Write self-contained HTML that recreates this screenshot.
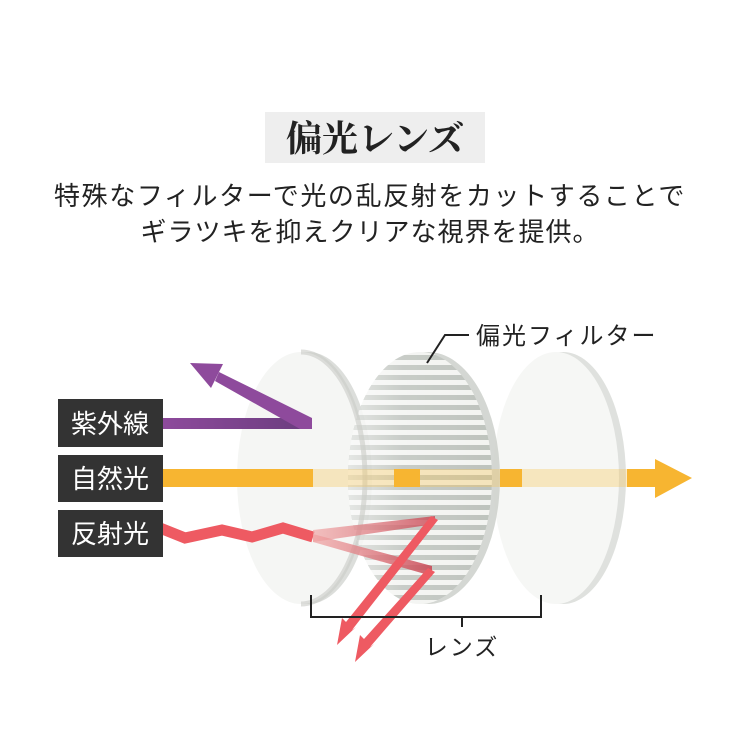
<!DOCTYPE html>
<html><head><meta charset="utf-8"><style>
html,body{margin:0;padding:0;background:#fff}
svg{display:block}
</style></head><body>
<svg width="740" height="740" viewBox="0 0 740 740" xmlns="http://www.w3.org/2000/svg">
<defs>
<clipPath id="fc"><ellipse cx="420" cy="478" rx="72" ry="126"/></clipPath>
<linearGradient id="pg" x1="0" x2="1"><stop offset="0" stop-color="#8e4a9c"/><stop offset="1" stop-color="#6a3d7e"/></linearGradient>
<linearGradient id="rf" x1="0" x2="1"><stop offset="0" stop-color="#f0a0a0" stop-opacity="0.8"/><stop offset="1" stop-color="#c84552"/></linearGradient>
<linearGradient id="sf" x1="0" x2="1"><stop offset="0" stop-color="#fff" stop-opacity="0.7"/><stop offset="0.35" stop-color="#fff" stop-opacity="0.2"/><stop offset="1" stop-color="#fff" stop-opacity="0"/></linearGradient>
</defs>
<rect width="740" height="740" fill="#fff"/>
<rect x="265" y="112" width="220" height="51" fill="#eeeeee"/>
<text x="375" y="151" text-anchor="middle" font-family="'Liberation Serif','Noto Serif CJK SC',serif" font-weight="bold" font-size="36" fill="#222">偏光レンズ</text>
<text x="370" y="205" text-anchor="middle" font-family="'Liberation Sans','Noto Sans CJK JP',sans-serif" font-size="26" letter-spacing="1.6" fill="#222">特殊なフィルターで光の乱反射をカットすることで</text>
<text x="370" y="241" text-anchor="middle" font-family="'Liberation Sans','Noto Sans CJK JP',sans-serif" font-size="26" letter-spacing="1" fill="#222">ギラツキを抑えクリアな視界を提供。</text>

<!-- lens 3 -->
<ellipse cx="563" cy="478" rx="63" ry="126" fill="#dfe1de"/>
<ellipse cx="556" cy="478" rx="63" ry="126" fill="#f6f7f5"/>
<!-- lens 1 -->
<ellipse cx="308" cy="478" rx="64" ry="126" fill="#dcdedb"/>
<ellipse cx="301" cy="478" rx="64" ry="126" fill="#f5f6f4"/>
<!-- filter -->
<g opacity="0.88">
<ellipse cx="428" cy="478" rx="72" ry="126" fill="#cfd2cd"/>
<ellipse cx="420" cy="478" rx="72" ry="126" fill="#f1f2ef"/>
<g clip-path="url(#fc)" fill="#b2b8b1">
<rect x="340" y="355" width="180" height="5"/><rect x="340" y="365" width="180" height="5"/><rect x="340" y="375" width="180" height="5"/><rect x="340" y="385" width="180" height="5"/><rect x="340" y="395" width="180" height="5"/><rect x="340" y="405" width="180" height="5"/><rect x="340" y="415" width="180" height="5"/><rect x="340" y="425" width="180" height="5"/><rect x="340" y="435" width="180" height="5"/><rect x="340" y="445" width="180" height="5"/><rect x="340" y="455" width="180" height="5"/><rect x="340" y="465" width="180" height="5"/><rect x="340" y="475" width="180" height="5"/><rect x="340" y="485" width="180" height="5"/><rect x="340" y="495" width="180" height="5"/><rect x="340" y="505" width="180" height="5"/><rect x="340" y="515" width="180" height="5"/><rect x="340" y="525" width="180" height="5"/><rect x="340" y="535" width="180" height="5"/><rect x="340" y="545" width="180" height="5"/><rect x="340" y="555" width="180" height="5"/><rect x="340" y="565" width="180" height="5"/><rect x="340" y="575" width="180" height="5"/><rect x="340" y="585" width="180" height="5"/><rect x="340" y="595" width="180" height="5"/>
<rect x="340" y="350" width="180" height="260" fill="url(#sf)"/>
</g>
</g>
<!-- lens1 rim over filter -->
<path d="M301,352 A64,126 0 0 1 301,604" fill="none" stroke="#c9ccc7" stroke-width="5" opacity="0.6"/>

<!-- purple -->
<rect x="160" y="418" width="152" height="11" fill="url(#pg)"/>
<polygon points="312,418 312,429 300,429 215,381 219,372" fill="#8e4a9c"/>
<polygon points="190,363 223,364 211,388" fill="#8e4a9c"/>
<!-- yellow -->
<rect x="160" y="469" width="153" height="18" fill="#f7b531"/>
<rect x="313" y="469" width="314" height="18" fill="#f7c55a" opacity="0.35"/>
<rect x="394" y="469" width="26" height="18" fill="#f7b531"/>
<rect x="500" y="469" width="22" height="18" fill="#f7b531"/>
<polygon points="627,469 655,469 655,459 692,478 655,498 655,487 627,487" fill="#f7b531"/>
<!-- red -->
<polyline points="160,528 185,538 222,530 252,537 283,528 313,537" fill="none" stroke="#ee5a62" stroke-width="11" stroke-linejoin="miter"/>
<polygon points="313,530 435,516 435,524 313,542" fill="url(#rf)" opacity="0.8"/>
<polygon points="313,534 432,566 432,576 313,542" fill="url(#rf)" opacity="0.85"/>
<polygon points="431,516 438,520 352,630 356,627 337,645 342,618 346,622" fill="#ee5a62"/>
<polygon points="428,568 435,572 370,647 374,644 355,662 360,635 364,639" fill="#ee5a62"/>

<!-- labels -->
<g font-family="'Liberation Sans','Noto Sans CJK JP',sans-serif" font-size="26" fill="#fff" text-anchor="middle">
<rect x="58" y="399" width="105" height="48" fill="#333"/><text x="110" y="433">紫外線</text>
<rect x="58" y="455" width="105" height="47" fill="#333"/><text x="110" y="488">自然光</text>
<rect x="58" y="510" width="105" height="47" fill="#333"/><text x="110" y="543">反射光</text>
</g>
<!-- filter label -->
<polyline points="427,363 445,335 469,335" fill="none" stroke="#222" stroke-width="2"/>
<text x="476" y="344" font-family="'Liberation Sans','Noto Sans CJK JP',sans-serif" font-size="24" letter-spacing="2" fill="#222">偏光フィルター</text>
<!-- bracket -->
<polyline points="311,595 311,617 541,617 541,595" fill="none" stroke="#222" stroke-width="2"/>
<line x1="462" y1="617" x2="462" y2="627" stroke="#222" stroke-width="2"/>
<text x="462" y="655" text-anchor="middle" font-family="'Liberation Sans','Noto Sans CJK JP',sans-serif" font-size="23" letter-spacing="2" fill="#222">レンズ</text>
</svg>
</body></html>
